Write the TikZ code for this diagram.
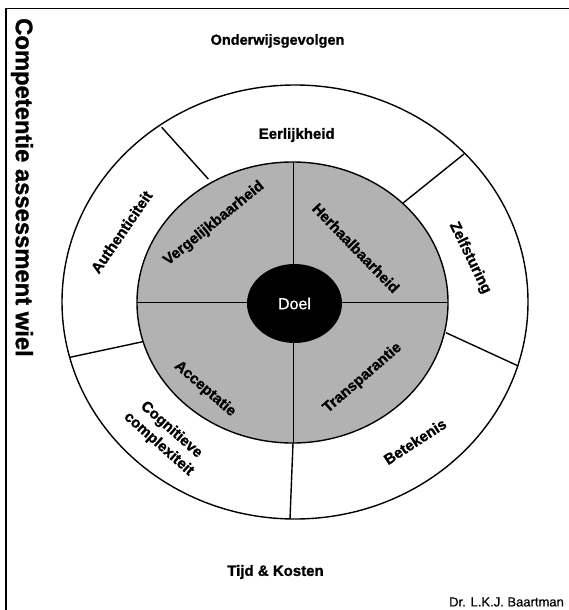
\documentclass[tikz,border=0pt]{standalone}
\usepackage{fontspec}
\setmainfont{Liberation Sans}
\newfontfamily\lblfont[FakeBold=1.2]{Liberation Sans Bold}
\newfontfamily\regfont[FakeBold=0.4]{Liberation Sans}
\usetikzlibrary{shapes.geometric}
\definecolor{wheelgray}{RGB}{178,178,178}
\begin{document}
\begin{tikzpicture}[x=1pt,y=-1pt,
  lbl/.style={font=\fontsize{15}{19}\selectfont\lblfont, inner sep=0pt},
  ringline/.style={line width=1.4pt},
  crossline/.style={line width=1pt}]
\useasboundingbox (0,0) rectangle (568,610);
\fill[white] (0,0) rectangle (568,610);
% frame
\coordinate (fbl) at (6,611);
\coordinate (ftl) at (6,8.5);
\coordinate (ftr) at (569,8.5);
\draw[line width=1.5pt] (fbl) -- (ftl) -- (ftr);
% outer ring
\draw[ringline, fill=white] (295,302) ellipse [x radius=233pt, y radius=217pt];
% ring dividers
\coordinate (o1) at (161.7,127.3); \coordinate (i1) at (208.3,179);
\coordinate (o2) at (464,154);     \coordinate (i2) at (402.7,203.3);
\coordinate (o3) at (70,357.3);    \coordinate (i3) at (142.7,341.7);
\coordinate (o4) at (518.3,366);   \coordinate (i4) at (446,332.7);
\coordinate (o5) at (290,519);     \coordinate (i5) at (293,443);
\foreach \k in {1,...,5} \draw[ringline] (o\k) -- (i\k);
% inner gray ellipse
\draw[ringline, fill=wheelgray] (292.5,302.5) ellipse [x radius=155.5pt, y radius=140.5pt];
\coordinate (ct) at (293,162); \coordinate (cb) at (293,443);
\coordinate (cl) at (137,302); \coordinate (cr) at (448,302);
\draw[crossline] (ct) -- (cb);
\draw[crossline] (cl) -- (cr);
% centre
\node[ellipse, fill=black, minimum width=95pt, minimum height=79pt, inner sep=0pt,
      text=white, font=\fontsize{16}{18}\selectfont\regfont] (doel) at (294.5,303.5) {Doel};
% labels
\node[lbl, font=\fontsize{14.5}{18}\selectfont\lblfont] (onder) at (277.5,41) {Onderwijsgevolgen};
\node[lbl] (eer) at (296.7,135) {Eerlijkheid};
\node[lbl, rotate=39] (verg) at (214,223.5) {Vergelijkbaarheid};
\node[lbl, rotate=-46] (herh) at (356,248) {Herhaalbaarheid};
\node[lbl, rotate=55.5] (auth) at (121.5,232) {Authenticiteit};
\node[lbl, rotate=-64] (zelf) at (470,258) {Zelfsturing};
\node[lbl, rotate=-41] (acc) at (205,389) {Acceptatie};
\node[lbl, rotate=41] (trans) at (362.5,378) {Transparantie};
\node[lbl, rotate=33] (bet) at (415,441.5) {Betekenis};
\node[lbl, rotate=-41.6, align=center] (cog) at (165,437) {Cognitieve\\complexiteit};
\node[lbl] (tijd) at (275.5,572) {Tijd \& Kosten};
\node[font=\fontsize{13}{15}\selectfont\regfont, inner sep=0pt] (dr) at (506.5,602) {Dr. L.K.J. Baartman};
\node[font=\fontsize{23.8}{28}\selectfont\lblfont, rotate=-90, inner sep=0pt] (title) at (22,187.5) {Competentie assessment wiel};
\end{tikzpicture}
\end{document}
